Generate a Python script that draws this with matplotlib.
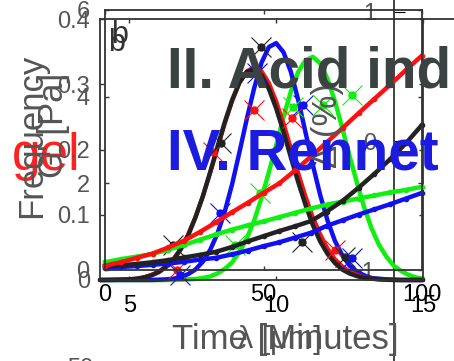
import matplotlib
matplotlib.use('Agg')
import matplotlib.pyplot as plt
from matplotlib.lines import Line2D

plt.rcParams['font.family'] = ['Liberation Sans', 'DejaVu Sans']

W, H = 454, 361

# G' [Pa] against time [minutes], read every 5 minutes
time_min = [0, 5, 10, 15, 20, 25, 30, 35, 40, 45, 50, 55, 60, 65, 70, 75, 80, 85, 90, 95, 100]
gp_red = [0.10, 0.18, 0.28, 0.38, 0.52, 0.68, 0.88, 1.10, 1.33, 1.55, 1.78, 2.00, 2.30, 2.62, 2.95, 3.28, 3.62, 3.95, 4.28, 4.62, 4.95]
gp_black = [0.09, 0.11, 0.14, 0.18, 0.23, 0.29, 0.35, 0.42, 0.53, 0.66, 0.78, 0.90, 1.01, 1.13, 1.35, 1.60, 1.90, 2.22, 2.56, 2.93, 3.35]
gp_green = [0.18, 0.25, 0.31, 0.37, 0.47, 0.58, 0.70, 0.82, 0.93, 1.03, 1.12, 1.22, 1.32, 1.42, 1.51, 1.58, 1.65, 1.72, 1.79, 1.85, 1.92]
gp_blue = [0.05, 0.07, 0.09, 0.12, 0.15, 0.19, 0.24, 0.28, 0.36, 0.45, 0.55, 0.64, 0.75, 0.86, 1.02, 1.15, 1.28, 1.40, 1.52, 1.65, 1.78]

# frequency distributions against lambda [um], read every 0.25
lam = [4.0, 4.25, 4.5, 4.75, 5.0, 5.25, 5.5, 5.75, 6.0, 6.25, 6.5, 6.75, 7.0, 7.25, 7.5, 7.75,
       8.0, 8.25, 8.5, 8.75, 9.0, 9.25, 9.5, 9.75, 10.0, 10.25, 10.5, 10.75, 11.0, 11.25, 11.5,
       11.75, 12.0, 12.25, 12.5, 12.75, 13.0, 13.25, 13.5, 13.75, 14.0, 14.25, 14.5, 14.75, 15.0]
freq_red = [0.0, 0.0001, 0.0003, 0.0007, 0.001, 0.002, 0.004, 0.008, 0.013, 0.021, 0.032, 0.048,
            0.070, 0.096, 0.128, 0.164, 0.202, 0.240, 0.274, 0.302, 0.320, 0.326, 0.320, 0.302,
            0.274, 0.240, 0.202, 0.164, 0.128, 0.096, 0.070, 0.048, 0.032, 0.021, 0.013, 0.008,
            0.004, 0.002, 0.001, 0.0007, 0.0003, 0.0001, 0.0, 0.0, 0.0]
freq_black = [0.0, 0.0001, 0.0003, 0.0006, 0.001, 0.002, 0.004, 0.007, 0.012, 0.020, 0.031, 0.047,
              0.068, 0.096, 0.128, 0.165, 0.204, 0.242, 0.276, 0.303, 0.319, 0.323, 0.314, 0.293,
              0.263, 0.227, 0.188, 0.150, 0.115, 0.084, 0.059, 0.040, 0.026, 0.016, 0.010, 0.006,
              0.003, 0.002, 0.001, 0.0005, 0.0, 0.0, 0.0, 0.0, 0.0]
freq_blue = [0.0, 0.0, 0.0, 0.0, 0.0, 0.0, 0.0, 0.0, 0.0004, 0.001, 0.002, 0.0045, 0.009, 0.016,
             0.028, 0.046, 0.071, 0.105, 0.147, 0.196, 0.247, 0.294, 0.333, 0.357, 0.363, 0.349,
             0.319, 0.276, 0.226, 0.176, 0.130, 0.091, 0.060, 0.038, 0.022, 0.013, 0.007, 0.003,
             0.002, 0.001, 0.0004, 0.0, 0.0, 0.0, 0.0]
freq_green = [0.0, 0.0, 0.0, 0.0, 0.0, 0.0, 0.0, 0.0, 0.0, 0.0, 0.0, 0.0004, 0.001, 0.0015, 0.003,
              0.0055, 0.010, 0.017, 0.027, 0.043, 0.064, 0.091, 0.126, 0.165, 0.207, 0.250, 0.289,
              0.319, 0.337, 0.342, 0.332, 0.308, 0.274, 0.233, 0.190, 0.149, 0.111, 0.079, 0.054,
              0.036, 0.022, 0.014, 0.008, 0.004, 0.002]

# measured points drawn as crosses
mk_red_lam = [6.62, 7.85, 9.25, 10.54, 12.0]
mk_red_f = [0.015, 0.196, 0.261, 0.248, 0.046]
mk_black_lam = [6.49, 8.12, 9.48, 10.88, 12.34]
mk_black_f = [0.054, 0.210, 0.357, 0.058, 0.035]
mk_blue_lam = [6.72, 8.09, 9.35, 10.91, 12.58]
mk_blue_f = [0.008, 0.103, 0.317, 0.268, 0.034]
mk_green_lam = [8.6, 9.45, 10.57, 11.6, 12.58]
mk_green_f = [0.054, 0.133, 0.265, 0.268, 0.284]

RED, BLACK, BLUE, GREEN = '#ff1010', '#222222', '#1010f0', '#10f010'
GREY = '#555555'


def box(left, top, right, bottom):
    # pixel box -> figure fraction
    return [left / W, 1 - bottom / H, (right - left) / W, (bottom - top) / H]


def style(ax, pad_x, pad_y):
    ax.patch.set_alpha(0)
    for s in ax.spines.values():
        s.set_color('#333333')
        s.set_linewidth(1.3)
    ax.tick_params(direction='in', length=3, width=1, top=True, right=True,
                   labelsize=17, color='#333333')
    ax.tick_params(axis='x', pad=pad_x, labelcolor='black')
    ax.tick_params(axis='y', pad=pad_y, labelcolor=GREY)


fig = plt.figure(figsize=(W / 100, H / 100), dpi=100)

# third axis, only its left spine shows
ax_r = fig.add_axes(box(394, -20, 520, 381), zorder=0)
ax_r.patch.set_alpha(0)
ax_r.set_ylim(-1.86, 1.248)
ax_r.set_yticks([-1, 0, 1])
ax_r.set_xticks([])
for k in ['top', 'right', 'bottom']:
    ax_r.spines[k].set_visible(False)
ax_r.spines['left'].set_color('#333333')
ax_r.spines['left'].set_linewidth(1.3)
ax_r.tick_params(axis='y', direction='in', length=8, labelsize=17, labelcolor=GREY, pad=13)

# frequency vs lambda
ax_q = fig.add_axes(box(100, 19, 423, 280), zorder=1)
style(ax_q, 11, 7)
for ys, c, lw in [(freq_green, GREEN, 3.2), (freq_blue, BLUE, 3.2),
                  (freq_red, RED, 3.0), (freq_black, BLACK, 3.2)]:
    ax_q.plot(lam, ys, color=c, lw=lw, solid_capstyle='round', solid_joinstyle='round', clip_on=False)
for xs, ys, c in [(mk_red_lam, mk_red_f, RED), (mk_black_lam, mk_black_f, BLACK),
                  (mk_blue_lam, mk_blue_f, BLUE), (mk_green_lam, mk_green_f, GREEN)]:
    ax_q.plot(xs, ys, 'x', color=c, ms=15, mew=0.8, clip_on=False)
    ax_q.plot(xs, ys, 'o', color=c, ms=5, clip_on=False)
ax_q.set_xlim(4, 15)
ax_q.set_ylim(0, 0.4)
ax_q.set_xticks([5, 10, 15])
ax_q.set_yticks([0, 0.1, 0.2, 0.3, 0.4])
ax_q.set_yticklabels(['0', '0.1', '0.2', '0.3', '0.4'])

# G' vs time
ax_p = fig.add_axes(box(105, 10, 422, 270), zorder=2)
style(ax_p, 10, 11)
for ys, c in [(gp_green, GREEN), (gp_blue, BLUE), (gp_black, BLACK), (gp_red, RED)]:
    ax_p.plot(time_min, ys, color=c, lw=3.2, marker='o', ms=3, clip_on=False)
ax_p.set_xlim(0, 100)
ax_p.set_ylim(0, 6)
ax_p.set_xticks([0, 50, 100])
ax_p.set_yticks([0, 2, 4, 6])

# extra frame line running out to the right edge
fig.add_artist(Line2D([423 / W, 1], [1 - 19 / H, 1 - 19 / H], color='#333333', lw=1.3))


def px(x, y):
    return x / W, 1 - y / H


fig.text(*px(12, 170), 'gel', color='#ff2020', fontsize=37, va='baseline', ha='left', zorder=0)
fig.text(*px(32, 136), 'Frequency', color=GREY, fontsize=25, rotation=90, ha='center', va='center')
fig.text(*px(54, 125), "G' [Pa]", color=GREY, fontsize=25, rotation=90, ha='center', va='center')
fig.text(*px(285, 340), 'Time [Minutes]', color=GREY, fontsize=25, ha='center', va='center')
fig.text(*px(280, 340), 'λ [μm]', color=GREY, fontsize=22, ha='center', va='center')
fig.text(*px(328, 125), 'Δ (%)', color=GREY, fontsize=25, rotation=90, ha='center', va='center')
fig.text(*px(167, 88), 'II. Acid induced', color='#3b4242', fontsize=40.8, fontweight='bold',
         ha='left', va='baseline', zorder=5)
fig.text(*px(167, 170), 'IV. Rennet', color='#1c1ce0', fontsize=40.8, fontweight='bold',
         ha='left', va='baseline', zorder=5)
fig.text(*px(111, 20), 'b', color='#333333', fontsize=22, ha='left', va='top')
fig.text(*px(108, 28), 'b', color='#333333', fontsize=22, ha='left', va='top')
fig.text(*px(80, 358), '50', color=GREY, fontsize=17, ha='center', va='top')

fig.savefig('out.png', dpi=100)
